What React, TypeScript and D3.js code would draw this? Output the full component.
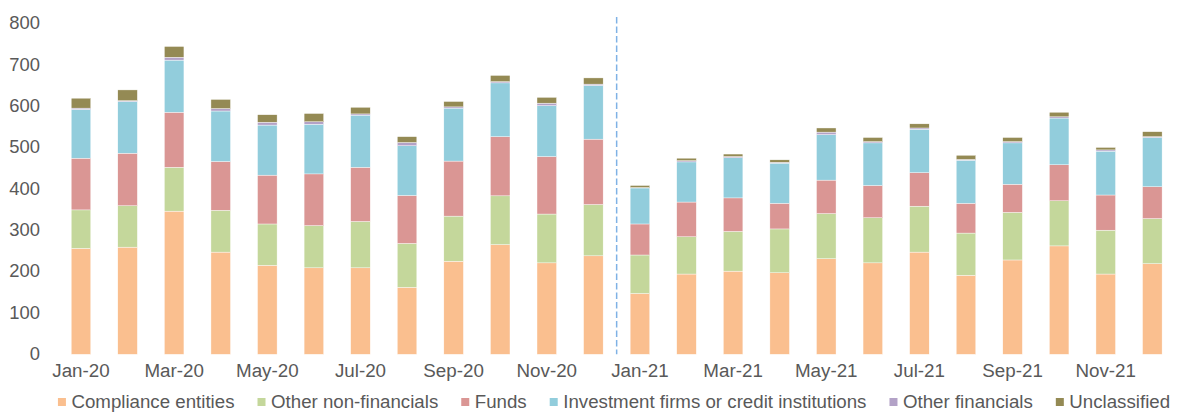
import React, { useEffect, useRef } from 'react';
import * as d3 from 'd3';

// ---- data ----
const months = [
  'Jan-20', 'Feb-20', 'Mar-20', 'Apr-20', 'May-20', 'Jun-20',
  'Jul-20', 'Aug-20', 'Sep-20', 'Oct-20', 'Nov-20', 'Dec-20',
  'Jan-21', 'Feb-21', 'Mar-21', 'Apr-21', 'May-21', 'Jun-21',
  'Jul-21', 'Aug-21', 'Sep-21', 'Oct-21', 'Nov-21', 'Dec-21',
];
const tickLabels = ['Jan-20', 'Mar-20', 'May-20', 'Jul-20', 'Sep-20', 'Nov-20', 'Jan-21', 'Mar-21', 'May-21', 'Jul-21', 'Sep-21', 'Nov-21'];
const yTicks = [0, 100, 200, 300, 400, 500, 600, 700, 800];

const seriesNames = [
  'Compliance entities',
  'Other non-financials',
  'Funds',
  'Investment firms or credit institutions',
  'Other financials',
  'Unclassified',
];
const compliance = [256, 259, 346, 247, 215, 209, 209, 162, 225, 265, 221, 238, 147, 194, 201, 197, 231, 221, 247, 191, 228, 262, 194, 219];
const otherNonFinancials = [93, 100, 106, 101, 100, 102, 112, 106, 109, 118, 118, 124, 93, 90, 96, 106, 109, 109, 111, 102, 115, 109, 106, 109];
const funds = [125, 127, 133, 118, 118, 125, 131, 116, 133, 143, 139, 158, 75, 84, 81, 62, 81, 78, 81, 72, 68, 87, 85, 77];
const investmentFirms = [118, 125, 126, 122, 121, 120, 126, 120, 128, 130, 123, 130, 87, 97, 97, 97, 110, 103, 105, 104, 100, 113, 106, 119];
const otherFinancials = [3, 2, 7, 6, 7, 6, 3, 8, 3, 3, 6, 3, 1, 3, 3, 2, 6, 3, 3, 2, 3, 3, 3, 2];
const unclassified = [24, 26, 26, 22, 18, 20, 16, 14, 13, 15, 14, 15, 5, 6, 6, 6, 10, 10, 10, 10, 10, 11, 6, 12];
const seriesValues = [compliance, otherNonFinancials, funds, investmentFirms, otherFinancials, unclassified];
const colors = ['#FABF8F', '#C4D79B', '#DA9694', '#92CDDC', '#B3A2C7', '#948A54'];
const dividerAt = 'Jan-21';

const FONT = '"Liberation Sans", Arial, sans-serif';
const TEXT = '#595959';

export default function App() {
  const W = 1179;
  const H = 412;
  const legendRef = useRef<SVGGElement | null>(null);

  const x = d3.scaleBand<string>().domain(months).range([57.7, 1175.6]).paddingInner(0.58).paddingOuter(0.29);
  const y = d3.scaleLinear().domain([0, 800]).range([354.3, 23.3]);

  const rows = months.map((m, i) => {
    const r: Record<string, any> = { month: m };
    seriesNames.forEach((s, k) => { r[s] = seriesValues[k][i]; });
    return r;
  });
  const stacked = d3.stack<Record<string, any>>().keys(seriesNames)(rows);

  const divX = (x(dividerAt) as number) - (x.step() * x.paddingInner()) / 2;

  useEffect(() => {
    const g = d3.select(legendRef.current);
    g.selectAll('*').remove();
    const items = g.selectAll('g.item').data(seriesNames).join('g').attr('class', 'item');
    items.append('rect').attr('width', 8).attr('height', 8).attr('y', -4)
      .attr('fill', (_d, i) => colors[i]);
    items.append('text').attr('x', 13.5).attr('dy', '0.32em')
      .attr('font-family', FONT).attr('font-size', 18.7).attr('fill', TEXT)
      .text((d) => d);
    let cursor = 0;
    const positions: number[] = [];
    items.each(function () {
      positions.push(cursor);
      const t = (this as SVGGElement).querySelector('text') as SVGTextElement;
      cursor += 13.5 + t.getComputedTextLength() + 23;
    });
    const total = cursor - 23;
    const start = 614 - total / 2;
    items.attr('transform', (_d, i) => `translate(${start + positions[i]},402)`);
  }, []);

  return (
    <svg width={W} height={H} style={{ position: 'absolute', left: 0, top: 0, background: '#fff' }}>
      <g>
        {yTicks.map((t) => (
          <text key={t} x={40} y={y(t)} dy="0.32em" textAnchor="end" fontFamily={FONT} fontSize={18.4} fill={TEXT}>
            {t}
          </text>
        ))}
      </g>
      <g>
        {stacked.map((layer, k) => (
          <g key={layer.key} fill={colors[k]}>
            {layer.map((d, i) => (
              <rect
                key={i}
                x={x(months[i])}
                width={x.bandwidth()}
                y={y(d[1])}
                height={Math.max(0, y(d[0]) - y(d[1]))}
                stroke="#fff"
                strokeWidth={0.4}
              />
            ))}
          </g>
        ))}
      </g>
      <line x1={divX} x2={divX} y1={y(815)} y2={y(0)} stroke="#7FB2E5" strokeWidth={1.5} strokeDasharray="6.5,3" />
      <g>
        {tickLabels.map((m) => (
          <text key={m} x={(x(m) as number) + x.bandwidth() / 2} y={377} textAnchor="middle" fontFamily={FONT} fontSize={18.8} fill={TEXT}>
            {m}
          </text>
        ))}
      </g>
      <g ref={legendRef} />
    </svg>
  );
}
